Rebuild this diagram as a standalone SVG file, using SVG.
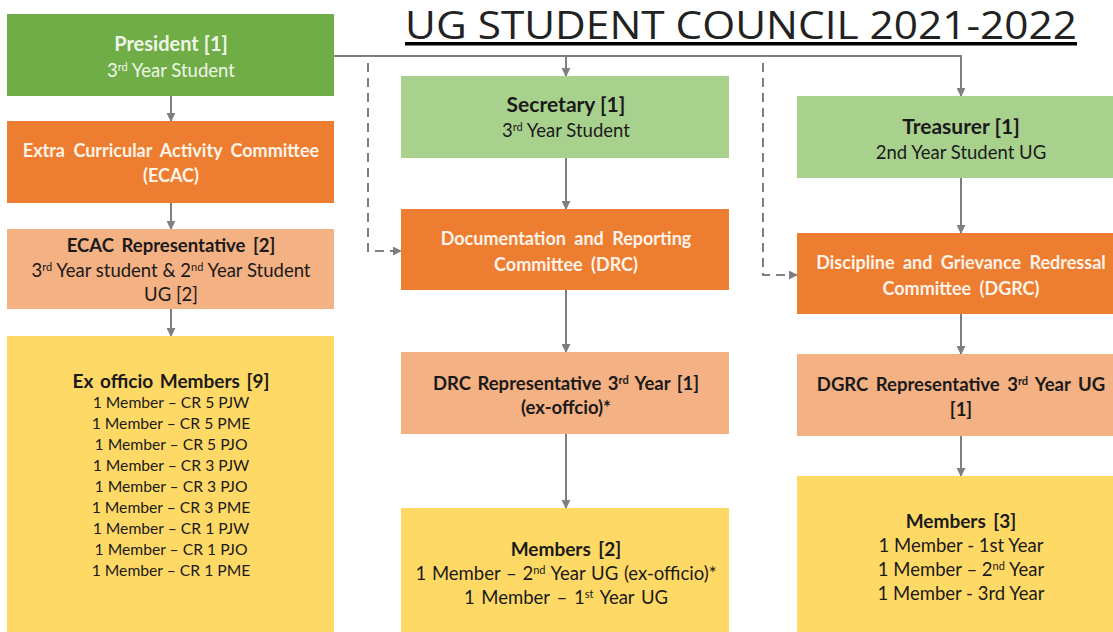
<svg xmlns="http://www.w3.org/2000/svg" width="1113" height="632" viewBox="0 0 1113 632">
<defs>
<style>
text{font-family:Lato,"Open Sans","Liberation Sans",sans-serif;text-anchor:middle}
.b{font-weight:bold}
.w{fill:#FFF3E8;font-weight:bold;font-size:18px;word-spacing:4px}
.wg{fill:#EEF6E8}
.d{fill:#1A1A1A}
.t15{font-size:15.7px}
.t18{font-size:18.5px}
.t19{font-size:19px}
.t20{font-size:20px}
.t21{font-size:21px}
.sup{font-size:11px;baseline-shift:super}
.c{stroke:#7F7F7F;stroke-width:2;fill:none}
.dash{stroke:#7F7F7F;stroke-width:2;fill:none;stroke-dasharray:9,6}
.g1{fill:#70AD47}.g2{fill:#A9D18E}.o1{fill:#ED7D31}.o2{fill:#F4B183}.y{fill:#FFD966}
</style>
<marker id="ar" viewBox="0 0 10 10" refX="9" refY="5" markerWidth="4.5" markerHeight="4.5" orient="auto" markerUnits="strokeWidth">
<path d="M0,0 L10,5 L0,10 z" fill="#7F7F7F"/>
</marker>
</defs>
<rect width="1113" height="632" fill="#FFFFFF"/>
<g id="title">
<text x="741" y="39" font-size="38" textLength="672" lengthAdjust="spacingAndGlyphs" fill="#222222" style="font-family:'Open Sans','Liberation Sans',sans-serif">UG STUDENT COUNCIL 2021-2022</text>
<rect x="405" y="42" width="672" height="3.5" fill="#000000"/>
</g>
<g id="connectors">
<line class="c" x1="171" y1="96" x2="171" y2="121" marker-end="url(#ar)"/>
<line class="c" x1="171" y1="203" x2="171" y2="229" marker-end="url(#ar)"/>
<line class="c" x1="171" y1="309" x2="171" y2="336" marker-end="url(#ar)"/>
<polyline class="c" points="334,56 961,56 961,96" marker-end="url(#ar)"/>
<line class="c" x1="566" y1="56" x2="566" y2="76" marker-end="url(#ar)"/>
<line class="c" x1="566" y1="158" x2="566" y2="209" marker-end="url(#ar)"/>
<line class="c" x1="566" y1="290" x2="566" y2="352" marker-end="url(#ar)"/>
<line class="c" x1="566" y1="434" x2="566" y2="508" marker-end="url(#ar)"/>
<line class="c" x1="961" y1="178" x2="961" y2="233" marker-end="url(#ar)"/>
<line class="c" x1="961" y1="314" x2="961" y2="354" marker-end="url(#ar)"/>
<line class="c" x1="961" y1="436" x2="961" y2="476" marker-end="url(#ar)"/>
<polyline class="dash" points="368,63 368,251 401,251" marker-end="url(#ar)"/>
<polyline class="dash" points="763,63 763,275 797,275" marker-end="url(#ar)"/>
</g>
<g id="president">
<rect class="g1" x="7" y="14" width="327" height="82"/>
<text class="b t20 wg" x="171" y="51">President [1]</text>
<text class="t18 wg" x="171" y="77">3<tspan class="sup">rd</tspan> Year Student</text>
</g>
<g id="ecac">
<rect class="o1" x="7" y="121" width="327" height="82"/>
<text class="w" x="171" y="157">Extra Curricular Activity Committee</text>
<text class="w" x="171" y="182">(ECAC)</text>
</g>
<g id="ecac-rep">
<rect class="o2" x="7" y="229" width="327" height="80"/>
<text class="b t18 d" x="171" y="252" word-spacing="3">ECAC Representative [2]</text>
<text class="t18 d" x="171" y="277">3<tspan class="sup">rd</tspan> Year student &amp; 2<tspan class="sup">nd</tspan> Year Student</text>
<text class="t18 d" x="171" y="301">UG [2]</text>
</g>
<g id="ex-officio">
<rect class="y" x="7" y="336" width="327" height="296"/>
<text class="b t19 d" x="171" y="388" word-spacing="2">Ex officio Members [9]</text>
<text class="t15 d" x="171" y="408">1 Member – CR 5 PJW</text>
<text class="t15 d" x="171" y="429">1 Member – CR 5 PME</text>
<text class="t15 d" x="171" y="450">1 Member – CR 5 PJO</text>
<text class="t15 d" x="171" y="471">1 Member – CR 3 PJW</text>
<text class="t15 d" x="171" y="492">1 Member – CR 3 PJO</text>
<text class="t15 d" x="171" y="513">1 Member – CR 3 PME</text>
<text class="t15 d" x="171" y="534">1 Member – CR 1 PJW</text>
<text class="t15 d" x="171" y="555">1 Member – CR 1 PJO</text>
<text class="t15 d" x="171" y="576">1 Member – CR 1 PME</text>
</g>
<g id="secretary">
<rect class="g2" x="401" y="76" width="328" height="82"/>
<text class="b t21 d" x="566" y="112">Secretary [1]</text>
<text class="t18 d" x="566" y="137">3<tspan class="sup">rd</tspan> Year Student</text>
</g>
<g id="drc">
<rect class="o1" x="401" y="209" width="328" height="81"/>
<text class="w" x="566" y="245">Documentation and Reporting</text>
<text class="w" x="566" y="271">Committee (DRC)</text>
</g>
<g id="drc-rep">
<rect class="o2" x="401" y="352" width="328" height="82"/>
<text class="b t18 d" x="566" y="390" word-spacing="2">DRC Representative 3<tspan class="sup">rd</tspan> Year [1]</text>
<text class="b t18 d" x="566" y="414">(ex-offcio)*</text>
</g>
<g id="drc-members">
<rect class="y" x="401" y="508" width="328" height="124"/>
<text class="b t19 d" x="566" y="556" word-spacing="3">Members [2]</text>
<text class="t18 d" x="566" y="580" word-spacing="1">1 Member – 2<tspan class="sup">nd</tspan> Year UG (ex-officio)*</text>
<text class="t18 d" x="566" y="604" word-spacing="2">1 Member – 1<tspan class="sup">st</tspan> Year UG</text>
</g>
<g id="treasurer">
<rect class="g2" x="797" y="96" width="330" height="82"/>
<text class="b t21 d" x="961" y="134">Treasurer [1]</text>
<text class="t18 d" x="961" y="159">2nd Year Student UG</text>
</g>
<g id="dgrc">
<rect class="o1" x="797" y="233" width="330" height="81"/>
<text class="w" x="961" y="269">Discipline and Grievance Redressal</text>
<text class="w" x="961" y="295">Committee (DGRC)</text>
</g>
<g id="dgrc-rep">
<rect class="o2" x="797" y="354" width="330" height="82"/>
<text class="b t18 d" x="961" y="391" word-spacing="3">DGRC Representative 3<tspan class="sup">rd</tspan> Year UG</text>
<text class="b t18 d" x="961" y="416">[1]</text>
</g>
<g id="dgrc-members">
<rect class="y" x="797" y="476" width="330" height="156"/>
<text class="b t19 d" x="961" y="528" word-spacing="3">Members [3]</text>
<text class="t18 d" x="961" y="552">1 Member - 1st Year</text>
<text class="t18 d" x="961" y="576">1 Member – 2<tspan class="sup">nd</tspan> Year</text>
<text class="t18 d" x="961" y="600">1 Member - 3rd Year</text>
</g>
</svg>
